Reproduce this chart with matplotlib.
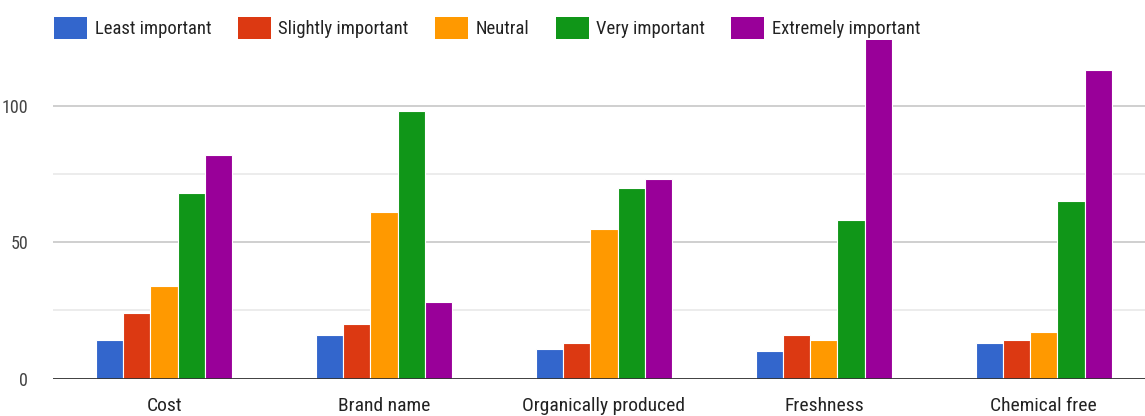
import matplotlib
matplotlib.use("Agg")
import matplotlib.pyplot as plt
from matplotlib import font_manager
from matplotlib.patches import Rectangle
from matplotlib.ticker import MultipleLocator
import numpy as np

categories = ["Cost", "Brand name", "Organically produced", "Freshness", "Chemical free"]
series_names = ["Least important", "Slightly important", "Neutral", "Very important", "Extremely important"]
least = [14, 16, 11, 10, 13]
slightly = [24, 20, 13, 16, 14]
neutral = [34, 61, 55, 14, 17]
very = [68, 98, 70, 58, 65]
extremely = [82, 28, 73, 130, 113]
colors = ["#3366cc", "#dc3912", "#ff9900", "#109618", "#990099"]
y_ticks = [0, 50, 100]

series = [least, slightly, neutral, very, extremely]

installed = {f.name for f in font_manager.fontManager.ttflist}
family = "Roboto"
for cand in ["Liberation Sans Narrow", "Roboto Condensed", "Arial Narrow"]:
    if cand in installed:
        family = cand
        break
plt.rcParams["font.family"] = [family, "DejaVu Sans"]

W, H = 1145, 416
fig = plt.figure(figsize=(W / 100, H / 100), dpi=100)
left_px, zero_px, top_px = 53, 378.7, 37.4
ax = fig.add_axes([left_px / W, (H - zero_px) / H, 1 - left_px / W, (zero_px - top_px) / H])

x = np.arange(len(categories))
bw = 0.1236
for i, (vals, col, name) in enumerate(zip(series, colors, series_names)):
    ax.bar(x + (i - 2) * bw, vals, width=bw, color=col, edgecolor="white",
           linewidth=0.8, label=name, zorder=3)

ax.set_xlim(-0.505, 4.46)
ax.set_ylim(0, 125)
ax.yaxis.set_major_locator(MultipleLocator(50))
ax.yaxis.set_minor_locator(MultipleLocator(25))
ax.set_yticks(y_ticks)
ax.grid(axis="y", which="major", color="#cccccc", linewidth=1.3, zorder=0)
ax.grid(axis="y", which="minor", color="#ebebeb", linewidth=1.3, zorder=0)
ax.axhline(0, color="#333333", linewidth=2, zorder=4)
for s in ax.spines.values():
    s.set_visible(False)
ax.tick_params(axis="y", which="both", length=0, pad=18, labelsize=13, labelcolor="#444444")
ax.tick_params(axis="x", length=0, pad=13, labelsize=14, labelcolor="#222222")
ax.set_xticks(x)
ax.set_xticklabels(categories)

# legend row drawn along the top
fig.add_artist(Rectangle((0, (H - 40) / H), 1, 40 / H, transform=fig.transFigure,
                         facecolor="white", edgecolor="none", zorder=5))
renderer = fig.canvas.get_renderer()
xpos = 54
yc = H - 29.5
for name, col in zip(series_names, colors):
    fig.add_artist(Rectangle((xpos / W, (H - 39.3) / H), 33 / W, 22 / H,
                             transform=fig.transFigure, facecolor=col,
                             edgecolor="none", zorder=6))
    t = fig.text((xpos + 41) / W, yc / H, name, fontsize=13.4, color="#222222",
                 va="center", ha="left", zorder=7)
    bb = t.get_window_extent(renderer)
    xpos = bb.x1 + 26

fig.savefig("out.png", dpi=100)
